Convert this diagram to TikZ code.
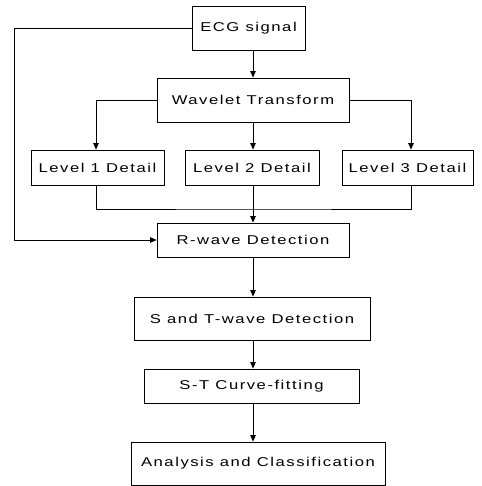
\documentclass[tikz,border=0pt]{standalone}
\usepackage{fontspec}
\setmainfont[FakeStretch=1.3,LetterSpace=12]{Liberation Sans}
\usetikzlibrary{arrows.meta}
\begin{document}
\begin{tikzpicture}[x=1pt,y=-1pt,
  box/.style={draw,line width=0.8pt,inner sep=0pt,font=\fontsize{12.8}{14}\selectfont},
  link/.style={line width=0.8pt},
  arr/.style={link,-{Triangle[length=6.5pt,width=5.5pt]}}]
\useasboundingbox (0,0) rectangle (481,486);
% processing stages
\node[box,minimum width=113pt,minimum height=44pt] (ecg) at (248.5,28) {ECG signal};
\node[box,minimum width=192pt,minimum height=44pt] (wt) at (253,100) {Wavelet Transform};
\node[box,minimum width=133pt,minimum height=35pt] (l1) at (97.5,167.5) {Level 1 Detail};
\node[box,minimum width=134pt,minimum height=35pt] (l2) at (252,167.5) {Level 2 Detail};
\node[box,minimum width=131pt,minimum height=35pt] (l3) at (407.5,167.5) {Level 3 Detail};
\node[box,minimum width=192pt,minimum height=34pt] (rw) at (253,240) {R-wave Detection};
\node[box,minimum width=236pt,minimum height=43pt] (st) at (252,318.5) {S and T-wave Detection};
\node[box,minimum width=215pt,minimum height=34pt] (cf) at (251.5,386) {S-T Curve-fitting};
\node[box,minimum width=254pt,minimum height=43pt] (ac) at (258,463.5) {Analysis and Classification};
% routing points: the vertical spine, the side feed and the detail bus
\coordinate (spine) at (253,0);
\coordinate (lc) at (14,240);
\coordinate (bus) at (253,209);
% connectors
\draw[arr] (spine|-ecg.south) -- (spine|-wt.north);
\draw[arr] (wt.west) -| ([xshift=-1.5pt]l1.north);
\draw[arr] (spine|-wt.south) -- (spine|-l2.north);
\draw[arr] (wt.east) -| ([xshift=3.5pt]l3.north);
\draw[link] ([xshift=-1.5pt]l1.south) |- (bus) -| ([xshift=3.5pt]l3.south);
\draw[arr] (spine|-l2.south) -- (spine|-rw.north);
\draw[arr] (ecg.west) -| (lc) -- (rw.west);
\draw[arr] (spine|-rw.south) -- (spine|-st.north);
\draw[arr] (spine|-st.south) -- (spine|-cf.north);
\draw[arr] (spine|-cf.south) -- (spine|-ac.north);
\end{tikzpicture}
\end{document}
